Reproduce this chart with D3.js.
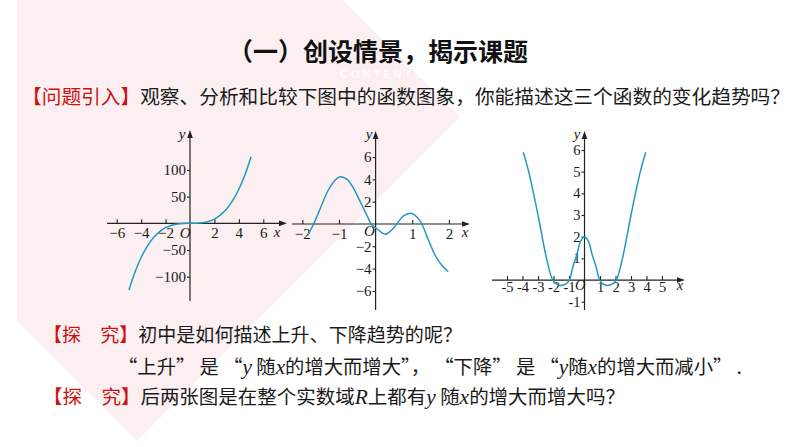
<!DOCTYPE html>
<html><head><meta charset="utf-8">
<script src="https://cdn.jsdelivr.net/npm/d3@7"></script>
<style>body{margin:0;background:#fff;}svg{display:block;}</style>
</head><body>
<script>
// ---------- data ----------
const titleText = "（一）创设情景，揭示课题";
const introLabel = "【问题引入】";
const introText = "观察、分析和比较下图中的函数图象，你能描述这三个函数的变化趋势吗？";
const exploreLabel = "【探　究】";
const explore1Text = "初中是如何描述上升、下降趋势的呢？";
const explore2Text = "后两张图是在整个实数域";

// plot 1 : cubic-like curve
const plot1XTicks = [-6, -4, -2, 2, 4, 6];
const plot1YTicks = [-100, -50, 50, 100];
const curve1X = [-5, -4.5, -4, -3.5, -3, -2.5, -2, -1.5, -1, -0.5, 0, 0.5, 1, 1.5, 2, 2.5, 3, 3.5, 4, 4.5, 5];
const curve1Y = [-125, -91, -64, -43, -27, -16, -8, -3.4, -1, -0.1, 0, 0.1, 1, 3.4, 8, 16, 27, 43, 64, 91, 125];

// plot 2 : wavy curve
const plot2XTicks = [-2, -1, 1, 2];
const plot2YTicks = [-6, -4, -2, 2, 4, 6];
const curve2X = [-1.85, -1.69, -1.47, -1.29, -1.10, -0.97, -0.78, -0.60, -0.42, -0.24, -0.12, 0.08, 0.26, 0.44, 0.58, 0.76, 0.97, 1.12, 1.26, 1.44, 1.62, 1.80, 1.98];
const curve2Y = [-0.99, 0, 1.7, 3.05, 3.95, 4.24, 4.0, 3.2, 2.0, 0.8, 0, -0.54, -0.93, -0.54, 0, 0.72, 0.96, 0.65, 0, -1.43, -2.78, -3.68, -4.28];

// plot 3 : W-shaped curve
const plot3XTicks = [-5, -4, -3, -2, -1, 1, 2, 3, 4, 5];
const plot3YTicks = [-1, 1, 2, 3, 4, 5, 6];
const curve3X = [-3.95, -3.6, -3.0, -2.45, -2.05, -1.8, -1.5, -1.2, -0.98, -0.75, -0.47, -0.25, 0, 0.25, 0.47, 0.75, 0.98, 1.2, 1.5, 1.8, 2.05, 2.45, 3.0, 3.6, 3.95];
const curve3Y = [5.9, 5.0, 3.0, 1.0, 0.0, -0.18, -0.25, -0.18, 0.0, 0.6, 1.23, 1.8, 2.0, 1.8, 1.23, 0.6, 0.0, -0.18, -0.25, -0.18, 0.0, 1.0, 3.0, 5.0, 5.9];

// ---------- drawing ----------
const W = 794, H = 447;
const CJK = "'Noto Sans CJK SC', 'Noto Sans', sans-serif";
const SERIF = "'Liberation Serif', 'DejaVu Serif', serif";
const RED = "#cc1111", INK = "#1a1a1a", CURVE = "#2199c2", AXIS = "#222";

const svg = d3.select("body").append("svg").attr("width", W).attr("height", H);

// background decoration
svg.append("rect").attr("width", W).attr("height", H).attr("fill", "#fff");
svg.append("polygon")
  .attr("points", [[17,0],[343,0],[460,117],[137,441],[17,321]].map(p => p.join(",")).join(" "))
  .attr("fill", "#fbeff1");
svg.append("text").attr("x", 340).attr("y", 78).text("CONTENTS")
  .attr("font-family", "'Liberation Sans', Arial, sans-serif").attr("font-size", 11)
  .attr("font-weight", 700).attr("letter-spacing", 3).attr("fill", "#ffffff").attr("opacity", 0.75);

// title
svg.append("text").attr("x", 378).attr("y", 61).attr("text-anchor", "middle")
  .attr("font-family", CJK).attr("font-weight", 700).attr("font-size", 25)
  .attr("fill", "#111").attr("textLength", 300).attr("lengthAdjust", "spacingAndGlyphs")
  .text(titleText);

function richLine(x, y, len, parts, fs) {
  const t = svg.append("text").attr("x", x).attr("y", y).attr("font-size", fs)
    .attr("textLength", len).attr("lengthAdjust", "spacingAndGlyphs");
  parts.forEach(p => {
    t.append("tspan").text(p.t)
      .attr("fill", p.c || INK)
      .attr("font-family", p.m ? SERIF : CJK)
      .attr("font-style", p.m ? "italic" : "normal")
      .attr("font-weight", p.b ? 700 : 400)
      .attr("font-size", p.m ? fs * 1.1 : fs);
  });
  return t;
}

richLine(22, 104, 768, [{t: introLabel, c: RED}, {t: introText}], 19.6);
richLine(43, 342, 419, [{t: exploreLabel, c: RED}, {t: explore1Text}], 19);
richLine(118, 374, 624, [
  {t: "“上升” 是 “"}, {t: "y", m: true}, {t: " 随"}, {t: "x", m: true},
  {t: "的增大而增大”， “下降” 是 “"}, {t: "y", m: true}, {t: "随"}, {t: "x", m: true},
  {t: "的增大而减小” ."}], 19);
richLine(43, 404, 582, [
  {t: exploreLabel, c: RED}, {t: explore2Text}, {t: "R", m: true}, {t: "上都有"},
  {t: "y", m: true}, {t: " 随"}, {t: "x", m: true}, {t: "的增大而增大吗？"}], 19);

// plots
const fmtMinus = d => d < 0 ? "−" + Math.abs(d) : String(d);
const fmtHyphen = d => d < 0 ? "-" + Math.abs(d) : String(d);
const plots = [
  {xDom: [-6, 6], xRng: [116.7, 263.3], yDom: [-100, 100], yRng: [276.7, 170],
   xt: plot1XTicks, yt: plot1YTicks, cx: curve1X, cy: curve1Y, fs: 15, xf: fmtMinus,
   xEnd: [107, 287], yEnd: [301, 130], pad: 4, o: [-0.4, 238], xl: [277, 237], yl: [182, 139]},
  {xDom: [-2, 2], xRng: [302.3, 448.9], yDom: [-6, 6], yRng: [290.9, 157.1],
   xt: plot2XTicks, yt: plot2YTicks, cx: curve2X, cy: curve2Y, fs: 15, xf: fmtMinus,
   xEnd: [292, 470], yEnd: [310, 131], pad: 4, o: [-0.17, 236], xl: [465, 237], yl: [369, 139]},
  {xDom: [-5, 5], xRng: [507, 662], yDom: [-1, 6], yRng: [301.7, 150],
   xt: plot3XTicks, yt: plot3YTicks, cx: curve3X, cy: curve3Y, fs: 14.5, xf: fmtHyphen,
   xEnd: [492, 685], yEnd: [310, 131], pad: 1.5, o: [-0.27, 290], xl: [680, 290], yl: [577, 139]}
];

plots.forEach(p => {
  const x = d3.scaleLinear().domain(p.xDom).range(p.xRng);
  const y = d3.scaleLinear().domain(p.yDom).range(p.yRng);
  const x0 = x(0), y0 = y(0);
  const g = svg.append("g");

  // axis lines with arrows
  g.append("line").attr("x1", p.xEnd[0]).attr("x2", p.xEnd[1] - 5).attr("y1", y0).attr("y2", y0)
    .attr("stroke", AXIS).attr("stroke-width", 1.2);
  g.append("path").attr("d", `M${p.xEnd[1]},${y0} L${p.xEnd[1]-8},${y0-2.8} L${p.xEnd[1]-8},${y0+2.8} Z`).attr("fill", AXIS);
  g.append("line").attr("x1", x0).attr("x2", x0).attr("y1", p.yEnd[0]).attr("y2", p.yEnd[1] + 5)
    .attr("stroke", AXIS).attr("stroke-width", 1.2);
  g.append("path").attr("d", `M${x0},${p.yEnd[1]} L${x0-2.8},${p.yEnd[1]+8} L${x0+2.8},${p.yEnd[1]+8} Z`).attr("fill", AXIS);

  // ticks
  const ax = g.append("g").attr("transform", `translate(0,${y0})`)
    .call(d3.axisBottom(x).tickValues(p.xt).tickSizeInner(-4).tickSizeOuter(0).tickPadding(p.pad).tickFormat(p.xf));
  const ay = g.append("g").attr("transform", `translate(${x0},0)`)
    .call(d3.axisLeft(y).tickValues(p.yt).tickSizeInner(3).tickSizeOuter(0).tickPadding(1).tickFormat(p.xf));
  [ax, ay].forEach(a => {
    a.select(".domain").remove();
    a.attr("font-family", SERIF).attr("font-size", p.fs);
    a.selectAll("line").attr("stroke", AXIS).attr("stroke-width", 1.1);
    a.selectAll("text").attr("fill", INK);
  });

  // labels O, x, y
  g.append("text").attr("x", x(p.o[0])).attr("y", p.o[1]).attr("text-anchor", "middle")
    .attr("font-family", SERIF).attr("font-style", "italic").attr("font-size", p.fs).attr("fill", INK).text("O");
  g.append("text").attr("x", p.xl[0]).attr("y", p.xl[1]).attr("text-anchor", "middle")
    .attr("font-family", SERIF).attr("font-style", "italic").attr("font-size", p.fs).attr("fill", INK).text("x");
  g.append("text").attr("x", p.yl[0]).attr("y", p.yl[1]).attr("text-anchor", "middle")
    .attr("font-family", SERIF).attr("font-style", "italic").attr("font-size", p.fs).attr("fill", INK).text("y");

  // curve
  const pts = p.cx.map((v, i) => [v, p.cy[i]]);
  g.append("path").datum(pts)
    .attr("d", d3.line().x(d => x(d[0])).y(d => y(d[1])).curve(d3.curveCatmullRom.alpha(0.5)))
    .attr("fill", "none").attr("stroke", CURVE).attr("stroke-width", 1.5);
});
</script>
</body></html>
